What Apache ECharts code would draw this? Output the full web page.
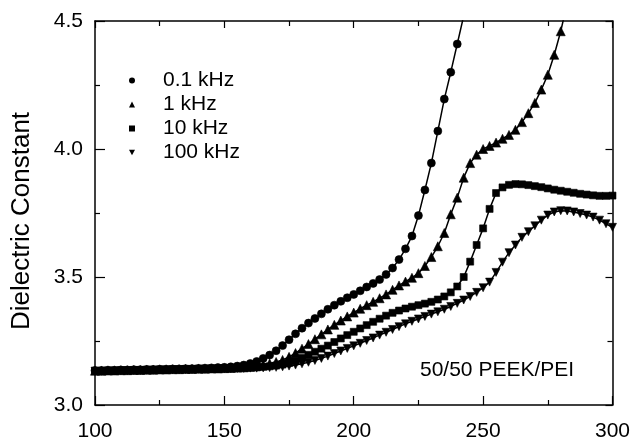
<!DOCTYPE html>
<html>
<head>
<meta charset="utf-8">
<script src="https://cdn.jsdelivr.net/npm/echarts@6/dist/echarts.min.js"></script>
<style>html,body{margin:0;padding:0;background:#fff;}#c{width:633px;height:442px;}</style>
</head>
<body>
<div id="c"></div>
<script>
var temps = [100,102.5,105,107.5,110,112.5,115,117.5,120,122.5,
125,127.5,130,132.5,135,137.5,140,142.5,145,147.5,
150,152.5,155,157.5,160,162.5,165,167.5,170,172.5,
175,177.5,180,182.5,185,187.5,190,192.5,195,197.5,
200,202.5,205,207.5,210,212.5,215,217.5,220,222.5,
225,227.5,230,232.5,235,237.5,240,242.5,245,247.5,
250,252.5,255,257.5,260,262.5,265,267.5,270,272.5,
275,277.5,280,282.5,285,287.5,290,292.5,295,297.5,300];

var f01kHz = [3.135,3.135,3.136,3.136,3.137,3.137,3.138,3.138,3.139,3.139,
3.140,3.140,3.141,3.141,3.142,3.142,3.143,3.144,3.145,3.146,
3.147,3.149,3.152,3.156,3.162,3.170,3.182,3.195,3.212,3.232,
3.255,3.278,3.300,3.320,3.338,3.356,3.374,3.390,3.405,3.419,
3.432,3.446,3.461,3.475,3.490,3.510,3.535,3.568,3.610,3.660,
3.740,3.840,3.945,4.070,4.195,4.300,4.410,4.520];

var f1kHz = [3.134,3.134,3.135,3.135,3.136,3.136,3.137,3.137,3.138,3.138,
3.139,3.139,3.140,3.140,3.141,3.141,3.142,3.142,3.143,3.143,
3.144,3.145,3.146,3.147,3.149,3.152,3.156,3.162,3.168,3.176,
3.188,3.203,3.220,3.238,3.257,3.276,3.295,3.313,3.330,3.346,
3.361,3.376,3.390,3.403,3.417,3.432,3.450,3.467,3.482,3.497,
3.515,3.543,3.578,3.620,3.672,3.745,3.810,3.888,3.945,3.978,
4.000,4.012,4.025,4.040,4.055,4.075,4.105,4.140,4.180,4.232,
4.290,4.368,4.460,4.570];

var f10kHz = [3.133,3.133,3.134,3.134,3.135,3.135,3.136,3.136,3.137,3.137,
3.138,3.138,3.139,3.139,3.140,3.140,3.141,3.141,3.142,3.142,
3.143,3.143,3.144,3.145,3.146,3.147,3.149,3.151,3.154,3.158,
3.164,3.173,3.184,3.196,3.208,3.220,3.232,3.246,3.260,3.273,
3.286,3.299,3.312,3.325,3.337,3.349,3.360,3.369,3.377,3.384,
3.390,3.396,3.403,3.412,3.424,3.440,3.463,3.500,3.560,3.625,
3.690,3.766,3.828,3.850,3.860,3.863,3.862,3.859,3.855,3.851,
3.846,3.841,3.837,3.833,3.829,3.825,3.822,3.819,3.817,3.817,3.818];

var f100kHz = [3.132,3.132,3.133,3.133,3.134,3.134,3.135,3.135,3.136,3.136,
3.137,3.137,3.138,3.138,3.139,3.139,3.140,3.140,3.141,3.141,
3.142,3.142,3.143,3.143,3.144,3.144,3.145,3.146,3.147,3.149,
3.152,3.156,3.161,3.167,3.174,3.182,3.191,3.201,3.211,3.221,
3.231,3.241,3.252,3.262,3.273,3.284,3.295,3.306,3.317,3.327,
3.336,3.346,3.355,3.364,3.374,3.385,3.397,3.410,3.424,3.440,
3.458,3.480,3.518,3.558,3.595,3.625,3.655,3.677,3.700,3.722,
3.742,3.754,3.759,3.758,3.754,3.748,3.742,3.734,3.722,3.708,3.694];

var seriesNames = ['0.1 kHz','1 kHz','10 kHz','100 kHz'];
var xTicks = [100,150,200,250,300];
var yTicks = [3.0,3.5,4.0,4.5];
var annotation = '50/50 PEEK/PEI';
var yTitle = 'Dielectric Constant';

function pairs(vals){ return vals.map(function(v,i){ return [temps[i], v]; }); }

var FONT = 'Liberation Sans';
var downTri = 'path://M0,0L10,0L5,9Z';

function mkSeries(name, vals, symbol, size, rotate){
  return {
    name: name, type: 'line', data: pairs(vals),
    symbol: symbol, symbolSize: size, symbolRotate: rotate || 0,
    showAllSymbol: true, clip: true, smooth: false,
    lineStyle: {color: '#000', width: 1.5},
    itemStyle: {color: '#000', borderColor: '#000', borderWidth: 0.6},
    emphasis: {disabled: true}, animation: false
  };
}

var chart = echarts.init(document.getElementById('c'), null, {renderer: 'canvas'});
var axisCommon = {
  min: 100, max: 300, interval: 50,
  axisLine: {show: true, lineStyle: {color: '#000', width: 1.5}},
  axisTick: {show: true, inside: true, length: 9, lineStyle: {color: '#000', width: 1.2}},
  minorTick: {show: true, splitNumber: 2, length: 5, lineStyle: {color: '#000', width: 1.2}},
  splitLine: {show: false}
};
var yCommon = {
  min: 3.0, max: 4.5, interval: 0.5,
  axisLine: {show: true, onZero: false, lineStyle: {color: '#000', width: 1.5}},
  axisTick: {show: true, inside: true, length: 10, lineStyle: {color: '#000', width: 1.2}},
  minorTick: {show: true, splitNumber: 2, length: 5, lineStyle: {color: '#000', width: 1.2}},
  splitLine: {show: false}
};

chart.setOption({
  backgroundColor: '#fff',
  animation: false,
  grid: {left: 95, right: 20, top: 21, bottom: 35, containLabel: false},
  legend: {
    orient: 'vertical', left: 124, top: 65, itemGap: 3,
    itemWidth: 6, itemHeight: 6, selectedMode: false,
    itemStyle: {borderWidth: 0},
    textStyle: {fontFamily: FONT, fontSize: 21, color: '#000', padding: [5,0,0,23]},
    data: [
      {name: seriesNames[0], icon: 'circle'},
      {name: seriesNames[1], icon: 'triangle'},
      {name: seriesNames[2], icon: 'rect'},
      {name: seriesNames[3], icon: downTri}
    ]
  },
  xAxis: [
    Object.assign({type: 'value', position: 'bottom',
      axisLabel: {fontFamily: FONT, fontSize: 21, color: '#000', margin: 16,
        formatter: function(v){ return xTicks.indexOf(v) >= 0 ? String(v) : ''; }}}, axisCommon),
    Object.assign({type: 'value', position: 'top', axisLabel: {show: false}}, axisCommon,
      {axisTick: {show: true, inside: true, length: 7, lineStyle: {color: '#000', width: 1.2}}})
  ],
  yAxis: [
    Object.assign({type: 'value', position: 'left',
      name: yTitle, nameLocation: 'middle', nameGap: 60, nameRotate: 90,
      nameTextStyle: {fontFamily: FONT, fontSize: 26, color: '#000', padding: [0,16,0,0]},
      axisLabel: {fontFamily: FONT, fontSize: 21, color: '#000', margin: 12,
        formatter: function(v){ return v.toFixed(1); }}}, yCommon),
    Object.assign({type: 'value', position: 'right', axisLabel: {show: false}}, yCommon,
      {axisTick: {show: true, inside: true, length: 7, lineStyle: {color: '#000', width: 1.2}}})
  ],
  graphic: [{
    type: 'text', left: 420, top: 360,
    style: {text: annotation, fontFamily: FONT, fontSize: 21, fill: '#000'}
  }],
  series: [
    mkSeries(seriesNames[0], f01kHz, 'circle', 8),
    mkSeries(seriesNames[1], f1kHz, 'triangle', 9),
    mkSeries(seriesNames[2], f10kHz, 'rect', 7),
    mkSeries(seriesNames[3], f100kHz, downTri, 8)
  ]
});
</script>
</body>
</html>
